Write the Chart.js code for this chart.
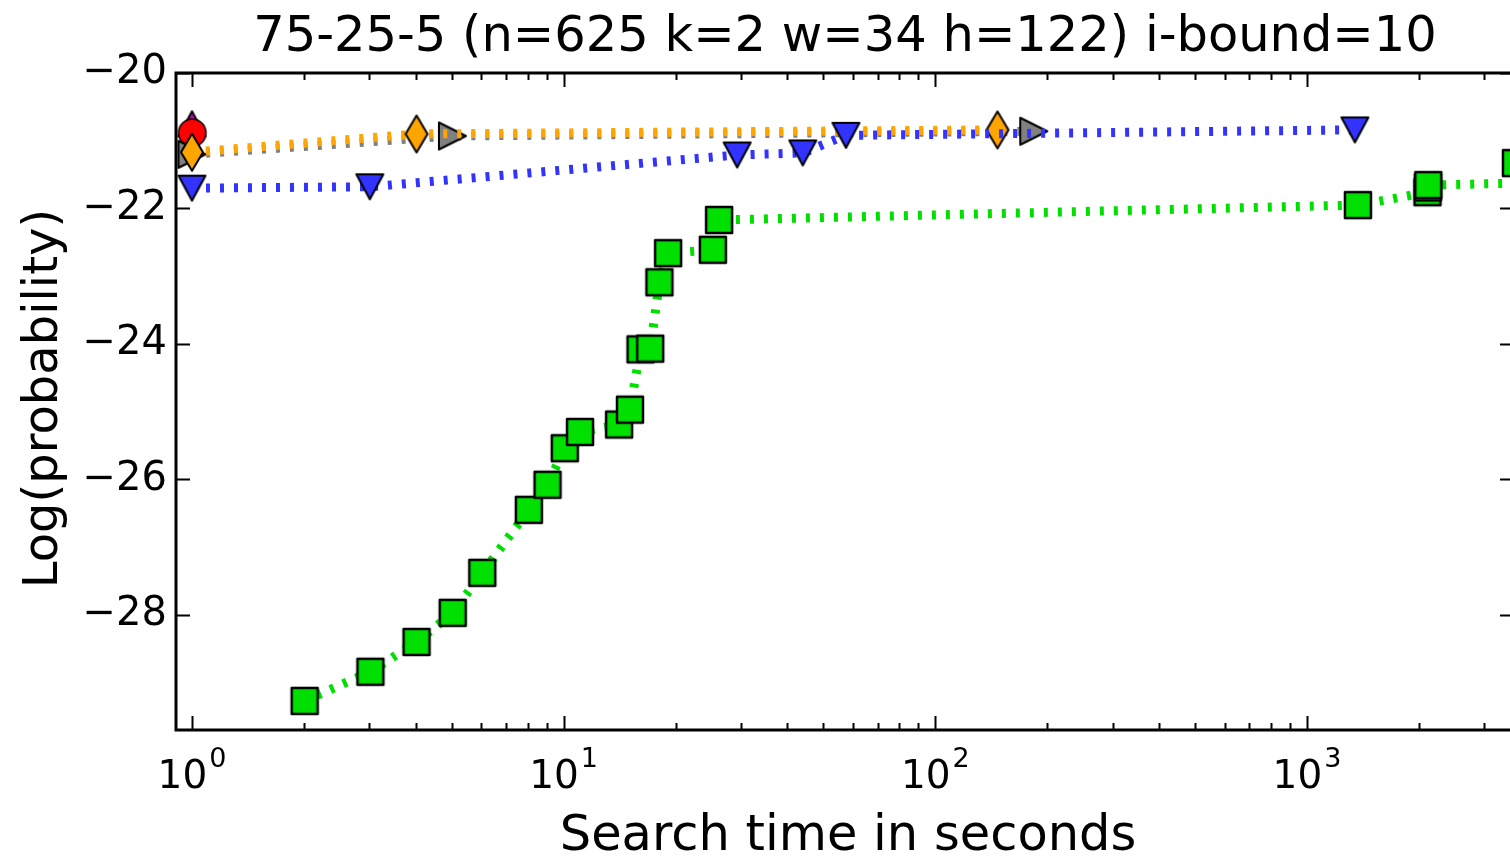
<!DOCTYPE html>
<html lang="en">
<head>
  <meta charset="UTF-8">
  <title>75-25-5 i-bound=10</title>
  <script src="https://cdn.jsdelivr.net/npm/chart.js"></script>
  <style>
    html, body {
      margin: 0;
      padding: 0;
      background: #fff;
      overflow: hidden;
    }
    #chart {
      display: block;
    }
  </style>
</head>
<body>
<canvas id="chart" width="1530" height="858"></canvas>
<script>
const titleText = '75-25-5 (n=625 k=2 w=34 h=122) i-bound=10';
const xLabel = 'Search time in seconds';
const yLabel = 'Log(probability)';

const xMajor = [1, 10, 100, 1000];
const xExponents = ['0', '1', '2', '3'];
const yTicks = [-20, -22, -24, -26, -28];

// anytime runs: time (s) / log probability of best solution so far
const greenX = [2.01, 3.02, 4.02, 5.03, 6.04, 8.06, 9.05, 10.07, 11.07, 14.1, 15.08, 16.1, 17.1, 18.1, 19.1, 25.2, 26.2, 1371, 2110, 2115, 2120, 4000, 3650];
const greenY = [-29.27, -28.84, -28.40, -27.97, -27.38, -26.45, -26.08, -25.54, -25.30, -25.19, -24.97, -24.08, -24.07, -23.09, -22.66, -22.61, -22.17, -21.95, -21.76, -21.69, -21.655, -21.62, -21.33];

const blueX = [1, 3.01, 29.3, 44, 57.5, 1346];
const blueY = [-21.70, -21.68, -21.21, -21.18, -20.92, -20.84];

const orangeX = [1, 4.02, 147];
const orangeY = [-21.17, -20.90, -20.84];

const grayX = [1, 5.02, 184];
const grayY = [-21.20, -20.93, -20.86];

const redX = [1];
const redY = [-20.88];

const magentaX = [1];
const magentaY = [-20.75];

const FONT = 'DejaVu Sans';

function marker(shape, fill, w, h, lw) {
  const pad = Math.ceil(lw) + 2;
  const c = document.createElement('canvas');
  c.width = w + 2 * pad;
  c.height = h + 2 * pad;
  const g = c.getContext('2d');
  g.translate(pad, pad);
  g.beginPath();
  if (shape === 'square') {
    g.rect(0, 0, w, h);
  } else if (shape === 'circle') {
    g.arc(w / 2, h / 2, w / 2, 0, Math.PI * 2);
  } else if (shape === 'diamond') {
    g.moveTo(w / 2, 0); g.lineTo(w, h / 2); g.lineTo(w / 2, h); g.lineTo(0, h / 2);
  } else if (shape === 'down') {
    g.moveTo(0, 0); g.lineTo(w, 0); g.lineTo(w / 2, h);
  } else if (shape === 'up') {
    g.moveTo(w / 2, 0); g.lineTo(w, h); g.lineTo(0, h);
  } else if (shape === 'right') {
    g.moveTo(0, 0); g.lineTo(w, h / 2); g.lineTo(0, h);
  }
  g.closePath();
  g.fillStyle = fill;
  g.fill();
  g.lineWidth = lw;
  g.lineJoin = 'round';
  g.strokeStyle = '#000';
  g.stroke();
  return c;
}

function series(xs, ys, color, style, order) {
  return {
    data: xs.map((x, i) => ({ x: x, y: ys[i] })),
    borderColor: color,
    borderWidth: 9,
    borderDash: [4, 10],
    borderCapStyle: 'butt',
    pointStyle: style,
    pointRadius: 14,
    pointBorderWidth: 0,
    showLine: true,
    tension: 0,
    clip: false,
    order: order
  };
}

// spines, inward ticks, title and axis labels drawn over the data
const framePlugin = {
  id: 'frame',
  afterDatasetsDraw(chart) {
    const { ctx, chartArea: a, scales } = chart;
    const x = scales.x, y = scales.y;
    ctx.save();
    ctx.strokeStyle = '#000';
    ctx.lineWidth = 2;
    ctx.beginPath();
    yTicks.forEach(v => {
      const py = Math.round(y.getPixelForValue(v)) + 0.5;
      ctx.moveTo(a.left, py); ctx.lineTo(a.left + 14, py);
      ctx.moveTo(a.right, py); ctx.lineTo(a.right - 14, py);
    });
    xMajor.forEach(d => {
      for (let m = 1; m <= 9; m++) {
        const v = d * m;
        if (v > x.max) break;
        const len = m === 1 ? 14 : 7;
        const px = Math.round(x.getPixelForValue(v)) + 0.5;
        ctx.moveTo(px, a.bottom); ctx.lineTo(px, a.bottom - len);
        ctx.moveTo(px, a.top); ctx.lineTo(px, a.top + len);
      }
    });
    ctx.stroke();

    ctx.lineWidth = 3;
    ctx.strokeRect(a.left, a.top, a.right - a.left, a.bottom - a.top);

    ctx.fillStyle = '#000';
    ctx.textBaseline = 'alphabetic';

    // 10^n labels
    xMajor.forEach((v, i) => {
      const px = x.getPixelForValue(v);
      ctx.font = '39px "' + FONT + '"';
      const wBase = ctx.measureText('10').width;
      ctx.font = '27px "' + FONT + '"';
      const wExp = ctx.measureText(xExponents[i]).width;
      const left = px - (wBase + 2 + wExp) / 2;
      ctx.textAlign = 'left';
      ctx.font = '39px "' + FONT + '"';
      ctx.fillText('10', left, 788);
      ctx.font = '27px "' + FONT + '"';
      ctx.fillText(xExponents[i], left + wBase + 2, 767);
    });

    const cx = (a.left + a.right) / 2;
    ctx.textAlign = 'center';
    ctx.font = '49.5px "' + FONT + '"';
    ctx.fillText(titleText, cx, 51);
    ctx.fillText(xLabel, cx + 3, 850);

    ctx.translate(57, (a.top + a.bottom) / 2 - 3);
    ctx.rotate(-Math.PI / 2);
    ctx.font = '48px "' + FONT + '"';
    ctx.fillText(yLabel, 0, 0);
    ctx.restore();
  }
};

new Chart(document.getElementById('chart'), {
  type: 'scatter',
  data: {
    datasets: [
      series(greenX, greenY, '#00e000', marker('square', '#00e000', 26, 26, 2.5), 0),
      series(blueX, blueY, '#3333ff', marker('down', '#3333ff', 27, 25, 2), 1),
      series(orangeX, orangeY, '#ffa500', marker('diamond', '#ffa500', 22, 37, 2), 2),
      series(grayX, grayY, '#808080', marker('right', '#808080', 27, 27, 2), 3),
      series(redX, redY, '#ff0000', marker('circle', '#ff0000', 27.5, 27.5, 1.5), 4),
      series(magentaX, magentaY, '#c000c0', marker('up', '#c000c0', 27, 25, 2), 5)
    ]
  },
  options: {
    responsive: false,
    animation: false,
    events: [],
    layout: { padding: { top: 73, right: 16, left: 0, bottom: 0 } },
    plugins: {
      legend: { display: false },
      tooltip: { enabled: false }
    },
    scales: {
      x: {
        type: 'logarithmic',
        min: 0.9057,
        max: 3606,
        afterFit: s => { s.height = 128; },
        ticks: { display: false },
        grid: { display: false, drawTicks: false },
        border: { display: false }
      },
      y: {
        type: 'linear',
        min: -29.7,
        max: -20,
        afterBuildTicks: s => { s.ticks = yTicks.map(v => ({ value: v })); },
        afterFit: s => { s.width = 176; },
        grid: { display: false, drawTicks: false },
        border: { display: false },
        ticks: {
          color: '#000',
          padding: 9,
          font: { family: FONT, size: 40 },
          callback: v => '\u2212' + Math.abs(v)
        }
      }
    }
  },
  plugins: [framePlugin]
});
</script>
</body>
</html>
